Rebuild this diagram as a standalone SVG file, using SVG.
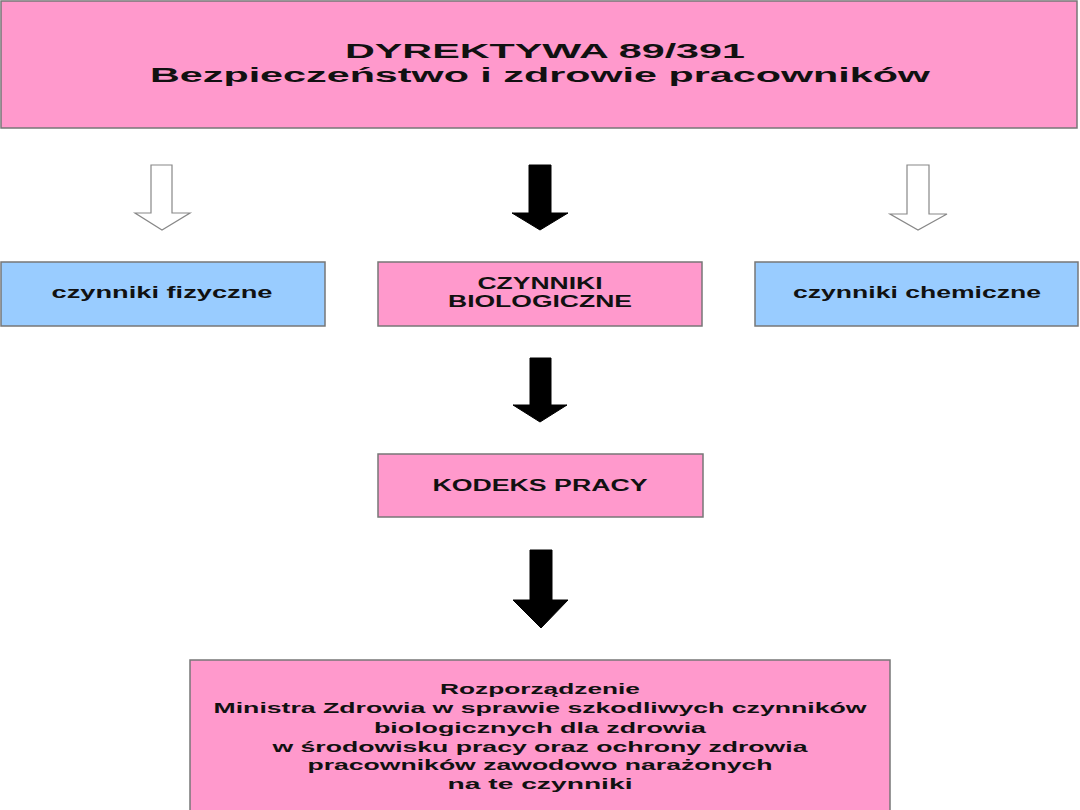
<svg xmlns="http://www.w3.org/2000/svg" width="1080" height="810" viewBox="0 0 1080 810">
<style>
.pink{fill:#FF99CC;stroke:#777;stroke-width:1.5}
.blue{fill:#99CCFF;stroke:#777;stroke-width:1.5}
text{font-family:"Liberation Sans",Arial,sans-serif;font-weight:bold;fill:#111;text-anchor:middle}
.t1{font-size:20px}
.t2{font-size:16px}
.t3{font-size:15px}
.hollow{fill:#fff;stroke:#888;stroke-width:1.2}
.solid{fill:#000;stroke:#000;stroke-width:1}
</style>
<rect width="1080" height="810" fill="#fff"/>
<g id="dyrektywa">
<rect class="pink" x="1" y="1" width="1076" height="127"/>
<text class="t1" x="545" y="58" textLength="400" lengthAdjust="spacingAndGlyphs">DYREKTYWA  89/391</text>
<text class="t1" x="540" y="82" textLength="780" lengthAdjust="spacingAndGlyphs">Bezpieczeństwo  i  zdrowie  pracowników</text>
</g>
<g id="fizyczne">
<rect class="blue" x="1" y="262" width="324" height="64"/>
<text class="t2" x="162" y="298" textLength="221" lengthAdjust="spacingAndGlyphs">czynniki  fizyczne</text>
</g>
<g id="biologiczne">
<rect class="pink" x="378" y="262" width="324" height="64"/>
<text class="t2" x="540" y="289" textLength="125" lengthAdjust="spacingAndGlyphs">CZYNNIKI</text>
<text class="t2" x="540" y="307" textLength="184" lengthAdjust="spacingAndGlyphs">BIOLOGICZNE</text>
</g>
<g id="chemiczne">
<rect class="blue" x="755" y="262" width="323" height="64"/>
<text class="t2" x="917" y="298" textLength="248" lengthAdjust="spacingAndGlyphs">czynniki chemiczne</text>
</g>
<g id="kodeks">
<rect class="pink" x="378" y="454" width="325" height="63"/>
<text class="t2" x="540" y="491" textLength="215" lengthAdjust="spacingAndGlyphs">KODEKS  PRACY</text>
</g>
<g id="rozporzadzenie">
<rect class="pink" x="190" y="660" width="700" height="152"/>
<text class="t3" x="540" y="694" textLength="200" lengthAdjust="spacingAndGlyphs">Rozporządzenie</text>
<text class="t3" x="540" y="713" textLength="653" lengthAdjust="spacingAndGlyphs">Ministra Zdrowia w sprawie szkodliwych czynników</text>
<text class="t3" x="540" y="733" textLength="332" lengthAdjust="spacingAndGlyphs">biologicznych dla zdrowia</text>
<text class="t3" x="540" y="752" textLength="535" lengthAdjust="spacingAndGlyphs">w środowisku pracy oraz ochrony zdrowia</text>
<text class="t3" x="540" y="770" textLength="465" lengthAdjust="spacingAndGlyphs">pracowników zawodowo narażonych</text>
<text class="t3" x="540" y="789" textLength="185" lengthAdjust="spacingAndGlyphs">na te czynniki</text>
</g>
<g id="connectors">
<path class="hollow" d="M151,165 H172 V213 H190 L162,230 L135,213 H151 Z"/>
<path class="solid" d="M529,165 H551 V213 H568 L540,230 L512,213 H529 Z"/>
<path class="hollow" d="M907,165 H929 V214 H947 L918,230 L890,214 H907 Z"/>
<path class="solid" d="M530,358 H551 V405 H567 L540,422 L513,405 H530 Z"/>
<path class="solid" d="M530,550 H552 V600 H568 L541,628 L513,600 H530 Z"/>
</g>
</svg>
